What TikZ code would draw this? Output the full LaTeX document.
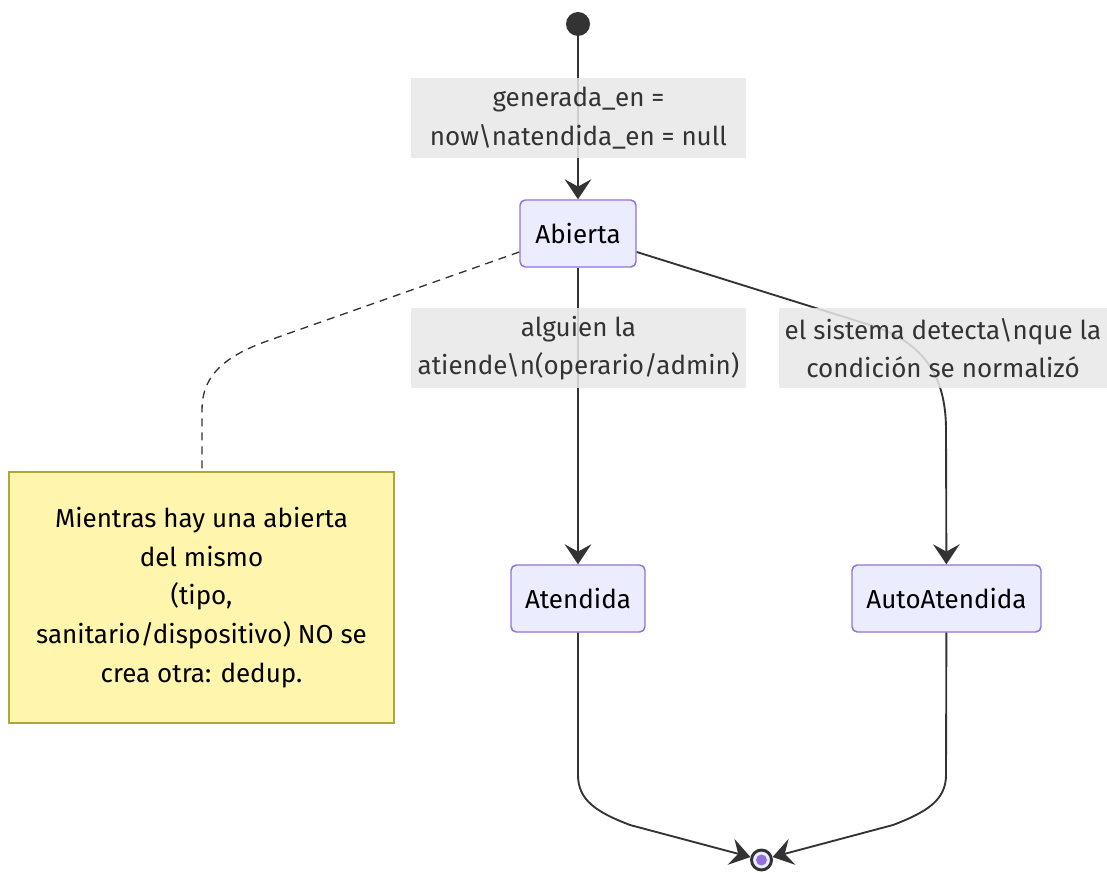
\documentclass[tikz,border=0pt]{standalone}
\usepackage{fontspec}
\setmainfont{Fira Sans}
\usetikzlibrary{arrows.meta}
\definecolor{stfill}{HTML}{ECECFF}
\definecolor{ststroke}{HTML}{9370DB}
\definecolor{edgecol}{HTML}{333333}
\definecolor{lblfill}{HTML}{E8E8E8}
\definecolor{notefill}{HTML}{FFF5AD}
\definecolor{notestroke}{HTML}{AAAA33}
\tikzset{
  statebox/.style={draw=ststroke, fill=stfill, line width=1.1pt, rounded corners=4pt,
    minimum height=67*0.75pt, inner sep=0pt, text=black},
  edgelabel/.style={fill=lblfill, fill opacity=0.85, text opacity=1, text=edgecol,
    minimum height=80*0.75pt, inner sep=0pt, align=center},
  notebox/.style={draw=notestroke, fill=notefill, line width=1.1pt, text=black,
    minimum width=385*0.75pt, minimum height=251*0.75pt, inner sep=0pt, align=center},
  trans/.style={draw=edgecol, line width=1.4pt,
    -{Stealth[length=15pt, width=20pt, inset=5.5pt]}},
  link/.style={draw=edgecol, line width=1pt, dashed, dash pattern=on 6pt off 4.5pt},
}
\begin{document}
\begin{tikzpicture}[x=0.75pt, y=-0.75pt, font=\fontsize{19.5}{29}\selectfont]
\useasboundingbox (0,0) rectangle (1107,873);

% start and final pseudo-states
\node[circle, fill=edgecol, minimum size=24*0.75pt, inner sep=0pt] (start) at (578,24) {};
\node[circle, draw=edgecol, fill=stfill, line width=2.2pt, minimum size=20*0.75pt, inner sep=0pt] (final) at (761.5,860) {};
\fill[ststroke] (final.center) circle (5.5);

% states
\node[statebox, minimum width=116*0.75pt] (abierta) at (578,233.5) {Abierta};
\node[statebox, minimum width=134*0.75pt] (atendida) at (578,598.5) {Atendida};
\node[statebox, minimum width=189*0.75pt] (auto) at (946.5,598.5) {AutoAtendida};

% note
\node[notebox] (note) at (201.5,597.5) {Mientras hay una abierta\\del mismo\\(tipo,\\sanitario/dispositivo) NO se\\crea otra: dedup.};

% helper points along the curved connectors
\coordinate (a1) at (870,325);
\coordinate (a2) at (946,430);
\coordinate (n1) at (270,340);
\coordinate (n2) at (202,410);
\coordinate (b1) at (578,775);
\coordinate (b2) at (630,825);
\coordinate (c1) at (946,775);
\coordinate (c2) at (893,825);

% transitions
\draw[trans] (start) -- (abierta);
\draw[trans] (abierta) -- (atendida);
\draw[trans] (abierta.east |- 0,252) -- (a1) .. controls (931,344) and (946,385) .. (a2) -- (auto);
\draw[trans] (atendida) -- (b1) .. controls (578,800) and (596,812) .. (b2) -- (final);
\draw[trans] (auto) -- (c1) .. controls (946,800) and (927,812) .. (c2) -- (final);
\draw[link] (abierta.west |- 0,252) -- (n1) .. controls (218,358) and (202,380) .. (n2) -- (note.north -| n2);

% transition labels
\node[edgelabel, minimum width=335*0.75pt] (l1) at (578.5,118) {generada\_en =\\now\textbackslash natendida\_en = null};
\node[edgelabel, minimum width=335*0.75pt] (l2) at (578.5,348) {alguien la\\atiende\textbackslash n(operario/admin)};
\node[edgelabel, minimum width=328*0.75pt] (l3) at (943,348) {el sistema detecta\textbackslash nque la\\condición se normalizó};
\end{tikzpicture}
\end{document}
